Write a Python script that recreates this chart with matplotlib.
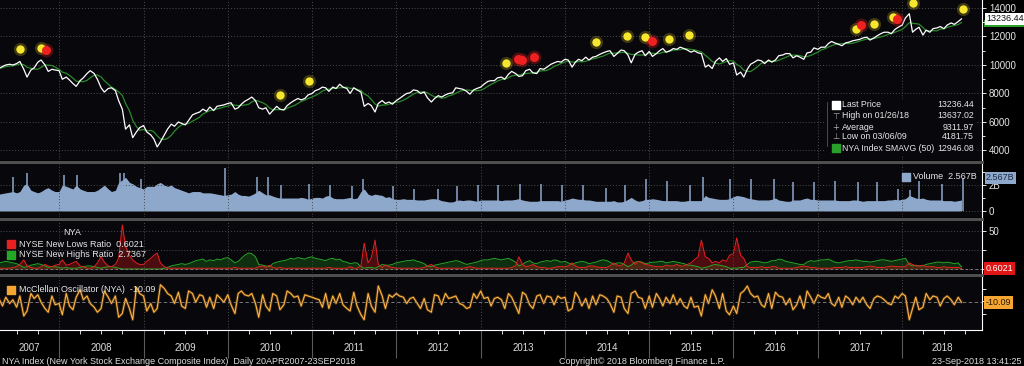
import numpy as np
import pandas as pd
import matplotlib
matplotlib.use('Agg')
import matplotlib.pyplot as plt
import matplotlib.transforms as mtrans
from matplotlib.lines import Line2D
from matplotlib.patches import Rectangle

plt.rcParams['font.family'] = ['Liberation Sans', 'DejaVu Sans']

# semi-monthly samples (1st and 15th), 15-Apr-2007 .. 15-Sep-2018
dates = pd.date_range('2007-04-15', '2018-09-15', freq='SMS')

price = [
    9750, 9900, 10000, 10050, 10000, 10100, 10250, 9700, 9150, 9650, 9800, 10200, 10350, 10000, 9550, 9700, 9650,  # 2007
    9600, 9000, 9150, 8950, 8700, 8500, 8900, 9100, 9400, 9600, 9400, 9000, 8400, 8100, 8350, 8400, 8200, 7500, 6900, 5500, 5800, 4900, 5300, 5600,
    5750, 5300, 5100, 4800, 4250, 4600, 5100, 5500, 5850, 5700, 6000, 5900, 5800, 6100, 6500, 6600, 6700, 6900, 6750, 7050, 6800, 7100, 7150, 7200,
    7300, 7350, 6900, 7000, 7250, 7450, 7600, 7750, 7500, 7000, 6900, 7000, 6550, 6800, 7100, 6900, 6850, 7150, 7350, 7500, 7650, 7550, 7650, 7900,
    8000, 8200, 8300, 8450, 8400, 8150, 8450, 8350, 8650, 8450, 8350, 8000, 8400, 8250, 8100, 7100, 7300, 7150, 6700, 7300, 7500, 7300, 7400, 7250,
    7500, 7650, 7850, 8000, 8050, 8250, 8200, 8000, 8100, 7700, 7400, 7650, 7850, 7750, 7900, 8000, 8050, 8400, 8350, 8300, 8150, 7950, 8250, 8350,
    8450, 8650, 8850, 8900, 8900, 9100, 9150, 9000, 9350, 9550, 9400, 9200, 9250, 9600, 9700, 9450, 9400, 9750, 9700, 9850, 10050, 10150, 10250, 10200,
    10400, 10350, 9850, 10200, 10400, 10300, 10550, 10350, 10550, 10600, 10750, 10850, 10950, 11000, 10600, 10800, 11050, 11000, 10700, 10150, 10750, 10900, 11000, 10650,
    10950, 10600, 10800, 11000, 11150, 10900, 11000, 11150, 11100, 11250, 11150, 11050, 10900, 11000, 10850, 10800, 9850, 10000, 9750, 10250, 10500, 10250, 10450, 10050,
    10150, 9300, 9500, 9150, 9700, 10050, 10200, 10350, 10300, 10100, 10350, 10200, 10350, 10650, 10700, 10800, 10800, 10500, 10650, 10550, 10400, 10850, 10900, 11200,
    11100, 11250, 11250, 11500, 11650, 11550, 11450, 11350, 11550, 11600, 11700, 11750, 11800, 11900, 11950, 11750, 11900, 12050, 12200, 12300, 12300, 12200, 12500, 12650,
    12800, 13300, 13600, 12300, 12500, 12650, 12100, 12450, 12300, 12550, 12600, 12700, 12550, 12800, 12950, 12850, 13050, 13236.44,  # 2018
]

volume = [  # billions
    1.3, 1.35, 1.4, 1.45, 1.5, 1.4, 1.5, 2.0, 2.1, 1.6, 1.5, 1.4, 1.5, 1.7, 1.8, 1.6, 1.5,
    1.5, 2.0, 1.9, 1.8, 1.7, 2.0, 1.7, 1.6, 1.5, 1.5, 1.5, 1.6, 1.8, 2.0, 1.7, 1.5, 1.6, 2.2, 2.4, 2.6, 2.2, 2.1, 1.9, 1.8,
    1.7, 1.9, 1.9, 1.9, 2.1, 2.2, 2.0, 1.9, 2.0, 1.8, 1.7, 1.6, 1.5, 1.4, 1.5, 1.5, 1.5, 1.4, 1.4, 1.4, 1.35, 1.3, 1.25, 1.2,
    1.25, 1.3, 1.5, 1.3, 1.2, 1.2, 1.15, 1.25, 1.4, 1.6, 1.4, 1.25, 1.25, 1.15, 1.05, 1.0, 1.0, 1.0, 1.0, 1.0, 1.0, 1.05, 1.0, 0.9,
    1.0, 1.05, 1.05, 1.0, 1.15, 1.2, 1.0, 0.95, 0.95, 0.95, 1.0, 1.05, 0.95, 1.0, 1.5, 1.7, 1.3, 1.2, 1.3, 1.25, 1.2, 1.05, 1.1, 0.95,
    0.9, 0.9, 0.95, 0.9, 0.9, 0.9, 0.85, 0.85, 0.85, 0.9, 0.95, 0.95, 0.9, 0.8, 0.75, 0.7, 0.7, 0.8, 0.85, 0.8, 0.85, 0.85, 0.8, 0.75,
    0.85, 0.85, 0.85, 0.85, 0.85, 0.85, 0.8, 0.85, 0.85, 0.85, 0.9, 0.95, 0.85, 0.8, 0.75, 0.75, 0.75, 0.8, 0.8, 0.8, 0.8, 0.8, 0.8, 0.75,
    0.85, 0.9, 1.0, 0.95, 0.9, 0.9, 0.85, 0.85, 0.8, 0.75, 0.75, 0.75, 0.75, 0.75, 0.8, 0.7, 0.7, 0.75, 0.9, 1.05, 0.85, 0.75, 0.8, 0.9,
    0.9, 0.95, 0.9, 0.85, 0.8, 0.8, 0.8, 0.8, 0.8, 0.75, 0.75, 0.8, 0.8, 0.8, 0.8, 0.8, 1.2, 1.05, 1.0, 0.95, 0.9, 0.9, 0.9, 0.95,
    1.1, 1.2, 1.15, 1.1, 1.0, 0.95, 0.9, 0.85, 0.85, 0.85, 0.85, 0.9, 1.0, 0.85, 0.8, 0.75, 0.75, 0.85, 0.85, 0.85, 0.95, 1.0, 0.9, 0.9,
    0.85, 0.85, 0.85, 0.85, 0.85, 0.85, 0.8, 0.8, 0.8, 0.8, 0.85, 0.85, 0.8, 0.75, 0.8, 0.8, 0.8, 0.8, 0.8, 0.8, 0.85, 0.85, 0.9, 0.85,
    0.9, 0.95, 1.2, 1.1, 1.0, 0.95, 1.0, 0.9, 0.85, 0.85, 0.85, 0.85, 0.8, 0.8, 0.8, 0.75, 0.8, 0.85,
]

spike_dates = ['2007-06-15', '2007-08-16', '2008-01-23', '2008-03-20', '2008-09-19', '2008-10-10', '2008-12-19',
               '2009-12-18', '2010-05-07', '2010-06-25', '2010-08-20', '2010-12-17', '2011-03-18', '2011-06-24',
               '2011-08-08', '2011-12-16', '2012-03-16', '2012-06-29', '2012-09-21', '2012-12-21', '2013-03-15',
               '2013-06-21', '2013-09-20', '2013-12-20', '2014-03-21', '2014-06-27', '2014-09-19', '2014-12-19',
               '2015-03-20', '2015-06-26', '2015-08-24', '2015-12-18', '2016-03-18', '2016-06-24', '2016-09-16',
               '2016-12-16', '2017-03-17', '2017-06-23', '2017-09-15', '2017-12-15', '2018-02-06', '2018-03-16',
               '2018-06-22', '2018-09-21']
spike_vals = [2.6, 2.9, 2.8, 2.8, 2.9, 2.9, 2.5, 3.3, 2.6, 2.6, 2.0, 2.1, 2.0, 1.9, 2.5, 1.9, 1.7, 1.7, 1.9, 2.0, 2.0,
              2.1, 2.1, 2.0, 2.0, 1.8, 2.0, 2.5, 2.3, 2.0, 2.6, 2.5, 2.5, 2.5, 2.2, 2.2, 2.3, 2.2, 2.2, 1.7, 1.6, 2.3,
              2.1, 2.567]

new_lows = [
    1, 1, 1, 1, 2, 3, 6, 12, 4, 2, 1, 1, 3, 6, 4, 3, 5,
    6, 12, 5, 6, 8, 10, 4, 3, 1, 1, 3, 8, 16, 9, 4, 3, 6, 14, 58, 30, 18, 12, 8, 6,
    6, 10, 14, 18, 21, 8, 3, 1, 1, 1, 1, 1, 1, 1, 1, 1, 1, 1, 1, 1, 1, 1, 1, 1,
    1, 1, 2, 1, 1, 1, 1, 1, 1, 3, 4, 2, 5, 2, 1, 2, 1, 1, 1, 1, 1, 1, 1, 1,
    1, 1, 1, 1, 1, 2, 1, 1, 1, 1, 1, 3, 1, 1, 4, 34, 8, 15, 38, 6, 2, 5, 3, 2,
    1, 1, 1, 1, 1, 1, 1, 1, 2, 4, 6, 3, 1, 1, 1, 1, 1, 1, 1, 1, 2, 3, 2, 1,
    1, 1, 1, 1, 1, 1, 1, 1, 1, 2, 4, 16, 6, 3, 4, 6, 3, 2, 2, 1, 1, 2, 3, 3,
    3, 4, 8, 4, 2, 2, 2, 4, 4, 3, 2, 2, 2, 4, 8, 5, 4, 8, 21, 12, 6, 10, 8, 6,
    5, 4, 3, 3, 3, 5, 4, 4, 6, 4, 4, 6, 8, 12, 16, 38, 16, 14, 8, 10, 8, 12, 10, 18,
    20, 41, 18, 14, 3, 2, 2, 2, 3, 2, 2, 3, 3, 1, 1, 1, 1, 1, 2, 3, 4, 3, 2, 2,
    1, 1, 1, 1, 1, 2, 2, 2, 3, 2, 2, 2, 2, 2, 3, 4, 3, 2, 2, 2, 3, 4, 3, 3,
    3, 3, 8, 6, 4, 4, 5, 3, 3, 3, 2, 2, 3, 2, 2, 2, 2, 0.6021,
]

new_highs = [
    8, 9, 10, 9, 8, 7, 5, 2, 3, 5, 6, 7, 6, 4, 2, 3, 3,
    2, 1, 2, 1, 1, 1, 2, 3, 4, 4, 3, 2, 1, 2, 3, 3, 2, 1, 0, 0, 0, 0, 0, 0,
    0, 0, 0, 0, 0, 0, 1, 2, 4, 5, 6, 7, 6, 7, 9, 11, 12, 13, 10, 12, 11, 13, 12, 14,
    15, 12, 8, 10, 14, 18, 21, 20, 16, 6, 5, 4, 3, 7, 9, 10, 11, 12, 14, 13, 15, 14, 13, 15,
    16, 14, 13, 12, 11, 13, 14, 12, 13, 10, 9, 7, 8, 8, 3, 1, 2, 2, 1, 3, 6, 5, 5, 6,
    8, 9, 10, 11, 11, 12, 10, 9, 7, 4, 3, 5, 6, 7, 8, 9, 10, 11, 10, 8, 6, 7, 8, 9,
    11, 12, 12, 13, 14, 13, 12, 13, 14, 12, 9, 4, 6, 9, 11, 8, 7, 9, 10, 11, 10, 12, 11, 9,
    10, 8, 6, 8, 9, 10, 9, 7, 8, 9, 11, 12, 11, 9, 6, 8, 8, 6, 3, 5, 9, 10, 9, 7,
    8, 9, 9, 10, 10, 8, 9, 10, 9, 8, 7, 5, 5, 4, 3, 1, 2, 3, 5, 6, 5, 4, 3, 1,
    1, 1, 2, 2, 6, 9, 10, 10, 9, 8, 9, 11, 11, 13, 12, 10, 9, 8, 7, 6, 6, 9, 11, 10,
    11, 12, 12, 13, 11, 9, 8, 9, 10, 11, 11, 12, 11, 10, 10, 9, 10, 11, 12, 12, 11, 10, 11, 12,
    13, 14, 6, 4, 5, 4, 4, 6, 7, 8, 9, 9, 8, 9, 8, 7, 8, 2.7367,
]

mcclellan = [
    20, -40, 30, -20, 10, -50, 40, -120, -80, 60, 20, 50, -10, -60, -90, 40, -30,
    -20, -110, 60, -40, -70, 30, 90, 10, 40, -20, -50, -90, -60, 80, 30, -20, 40, -130, -100, 20, -60, -150, 110, 60,
    40, -80, -20, -90, -60, 130, 100, 60, 40, -20, 70, -40, -60, 80, 60, -10, 50, 40, -50, 30, -60, 50, 20, -10,
    50, -30, -100, 60, 80, 50, 40, 60, -20, -130, 50, -40, -80, 60, 40, -70, -30, 80, 60, 30, 40, -40, 50, 40,
    30, 20, 10, -50, 60, -60, 40, -20, 60, -30, -60, -80, 70, -40, -110, -150, 60, -40, -90, 120, 40, -60, 50, 30,
    60, 40, 30, -20, 20, 30, -20, -60, 20, -70, -90, 50, 40, -30, 60, 20, 30, 40, -20, -30, -60, -50, 60, 20,
    80, 20, 30, -40, 20, 30, 10, -60, 60, 30, -40, -100, 70, 50, -30, -60, 40, 50, -20, 40, 30, -30, 40, 20,
    30, -80, -60, 70, 30, -40, 20, -60, 40, -30, 50, 40, 20, -20, -90, 40, 30, -60, -100, 60, 80, 30, 20, -60,
    40, -50, 60, 20, -40, 30, -20, 50, -30, 20, -40, -60, 30, -50, -40, -120, 50, -20, 90, 40, -60, 60, -80, -110,
    -40, -100, 60, 80, 120, 60, 30, 40, -30, -50, 60, -60, 70, 40, 30, -30, 20, -70, -30, 40, -60, 80, 30, -20,
    50, 30, 20, 60, -20, -40, 30, -50, 40, 20, -30, 30, -10, 30, -30, -60, 20, 40, 30, 10, -20, -30, 40, 20,
    60, 40, -150, -60, 30, -70, -50, 60, 10, 40, 30, -40, 20, 40, 10, -30, 30, -10.09,
]

yellow_dates = ['2007-07-16', '2007-10-13', '2010-08-15', '2010-12-19', '2013-04-20', '2014-05-16', '2014-09-28',
                '2014-12-15', '2015-03-29', '2015-06-24', '2017-06-16', '2017-09-02', '2017-11-23', '2018-02-18',
                '2018-09-21']
yellow_vals = [11120, 11190, 7900, 8880, 10140, 11610, 12030, 11960, 11820, 12100, 12530, 12880, 13370, 14350, 13930]
red_dates = ['2007-11-06', '2013-06-11', '2013-06-29', '2013-08-20', '2015-01-14', '2017-07-07', '2017-12-11']
red_vals = [11050, 10420, 10350, 10560, 11680, 12810, 13230]

sma = pd.Series(price).rolling(5, min_periods=1).mean()

W, H = 1024, 366
RIGHT = 982
fig = plt.figure(figsize=(W / 100, H / 100), dpi=100, facecolor='black')

def panel(top, bottom):
    ax = fig.add_axes([0, 1 - bottom / H, RIGHT / W, (bottom - top) / H])
    ax.set_facecolor('#08080c')
    for s in ['top', 'left', 'bottom']:
        ax.spines[s].set_visible(False)
    ax.spines['right'].set_color('white')
    ax.spines['right'].set_linewidth(0.8)
    ax.yaxis.tick_right()
    ax.tick_params(axis='y', colors='#e6e6e6', labelsize=7, length=3, width=0.7, pad=2, which='both')
    ax.tick_params(axis='y', which='minor', length=2)
    return ax

ax_p = panel(0, 160)
ax_v = panel(164, 217)
ax_h = panel(220, 273)
ax_m = panel(277, 330)

x0, x1 = pd.Timestamp('2007-04-20'), pd.Timestamp('2018-12-13')
years = pd.date_range('2008-01-01', '2018-01-01', freq='YS')
quarters = pd.date_range('2007-07-01', '2018-12-01', freq='QS')
grid_kw = dict(color='#4d4d4d', ls=(0, (1, 2)), lw=0.7)
for ax in [ax_p, ax_v, ax_h, ax_m]:
    ax.set_xlim(x0, x1)
    ax.set_xticks(years)
    ax.grid(axis='x', **grid_kw)
    ax.tick_params(axis='x', length=0, labelbottom=False)

# price panel
ax_p.plot(dates, sma, color='#2a8a2a', lw=0.9)
ax_p.plot(dates, price, color='white', lw=0.9)
yd = pd.to_datetime(yellow_dates)
rd = pd.to_datetime(red_dates)
ax_p.scatter(yd, yellow_vals, s=90, color='#f5e22a', alpha=0.22, lw=0, zorder=4)
ax_p.scatter(yd, yellow_vals, s=36, color='#f7e62e', lw=0, zorder=5)
ax_p.scatter(rd, red_vals, s=100, color='#e01d1d', alpha=0.3, lw=0, zorder=4)
ax_p.scatter(rd, red_vals, s=42, color='#ee2020', lw=0, zorder=5)
ax_p.set_ylim(3333, 14561)
ax_p.set_yticks(range(4000, 14001, 2000))
ax_p.set_yticks(range(4000, 14001, 1000), minor=True)
ax_p.grid(axis='y', **grid_kw)

leg = ax_p.transAxes
ax_p.add_patch(Rectangle((0.840, 0.03), 0.155, 0.35, transform=leg, facecolor='#08080c', edgecolor='none', zorder=6))
ax_p.add_line(Line2D([0.842, 0.842], [0.09, 0.36], transform=leg, color='#555555', lw=0.6, zorder=7))
rows_y = [0.344, 0.275, 0.206, 0.144, 0.075]
leg_labels = ['Last Price', 'High on 01/26/18', 'Average', 'Low on 03/06/09', 'NYA Index SMAVG (50)']
leg_values = ['13236.44', '13637.02', '9311.97', '4181.75', '12946.08']
leg_marks = [None, '\u22a4', '+', '\u22a5', None]
for y, lab, val, mk in zip(rows_y, leg_labels, leg_values, leg_marks):
    ax_p.text(0.857, y, lab, transform=leg, color='#e6e6e6', fontsize=6.3, va='center', zorder=8)
    ax_p.text(0.992, y, val, transform=leg, color='#e6e6e6', fontsize=6.3, va='center', ha='right', zorder=8)
    if mk:
        ax_p.text(0.851, y, mk, transform=leg, color='#aaaaaa', fontsize=6, va='center', ha='center',
                  family=['DejaVu Sans'], zorder=8)
ax_p.scatter([0.851], [rows_y[0]], transform=leg, marker='s', s=30, color='white', zorder=8)
ax_p.scatter([0.851], [rows_y[4]], transform=leg, marker='s', s=30, color='#2aa02a', zorder=8)

# last-value boxes on the right axis
ytr = mtrans.blended_transform_factory(ax_p.transAxes, ax_p.transData)
ax_p.add_patch(Rectangle((1.002, 12700), 0.046, 450, transform=ytr, facecolor='#2aa02a', edgecolor='none',
                         clip_on=False))
ax_p.text(1.004, 13236.44, '13236.44', transform=ytr, fontsize=6.5, color='#111111', va='center',
          bbox=dict(boxstyle='square,pad=0.15', fc='white', ec='none'))

# volume panel
ax_v.fill_between(dates, volume, 0, color='#8ea8cc', lw=0)
ax_v.vlines(pd.to_datetime(spike_dates), 0, spike_vals, color='#8ea8cc', lw=1.1)
ax_v.set_ylim(-0.46, 3.62)
ax_v.set_yticks([0, 2])
ax_v.set_yticklabels(['0', '2B'])
ax_v.set_yticks([1, 3], minor=True)
ax_v.grid(axis='y', **grid_kw)
vl = ax_v.transAxes
ax_v.scatter([0.9226], [0.755], transform=vl, marker='s', s=30, color='#8ea8cc', zorder=8)
ax_v.text(0.930, 0.755, 'Volume  2.567B', transform=vl, color='#e6e6e6', fontsize=6.5, va='center', zorder=8)
ytr = mtrans.blended_transform_factory(ax_v.transAxes, ax_v.transData)
ax_v.text(1.004, 2.567, '2.567B', transform=ytr, fontsize=6.5, color='#1b2a44', va='center',
          bbox=dict(boxstyle='square,pad=0.15', fc='#8ea8cc', ec='none'))

# new highs / new lows panel
ax_h.fill_between(dates, new_highs, 0, color='#1c8c1c', alpha=0.3, lw=0)
ax_h.plot(dates, new_highs, color='#26a626', lw=0.7)
ax_h.fill_between(dates, new_lows, 0, color='#d01818', alpha=0.35, lw=0)
ax_h.plot(dates, new_lows, color='#e82020', lw=0.7)
ax_h.axhline(new_lows[-1], color='#8a8a8a', ls=(0, (3, 3)), lw=0.6)
ax_h.set_ylim(-5.3, 64.5)
ax_h.set_yticks([0, 25, 50])
ax_h.set_yticklabels(['', '', '50'])
ax_h.grid(axis='y', **grid_kw)
hl = ax_h.transAxes
ax_h.text(0.074, 0.755, 'NYA', transform=hl, color='#e6e6e6', fontsize=6.5, va='center', ha='center')
ax_h.scatter([0.0112], [0.547], transform=hl, marker='s', s=30, color='#e82020')
ax_h.text(0.0193, 0.547, 'NYSE New Lows Ratio  0.6021', transform=hl, color='#e6e6e6', fontsize=6.5, va='center')
ax_h.scatter([0.0112], [0.34], transform=hl, marker='s', s=30, color='#26a626')
ax_h.text(0.0193, 0.34, 'NYSE New Highs Ratio  2.7367', transform=hl, color='#e6e6e6', fontsize=6.5, va='center')
ytr = mtrans.blended_transform_factory(ax_h.transAxes, ax_h.transData)
ax_h.text(1.004, 0.6021, '0.6021', transform=ytr, fontsize=6.5, color='white', va='center',
          bbox=dict(boxstyle='square,pad=0.2', fc='#e01515', ec='none'))

# mcclellan panel
ax_m.plot(dates, mcclellan, color='#c47a12', lw=2.0, alpha=0.35)
ax_m.plot(dates, mcclellan, color='#ffb547', lw=0.8)
ax_m.axhline(mcclellan[-1], color='#8a8a8a', ls=(0, (4, 3)), lw=0.6)
ax_m.set_ylim(-232, 192)
ax_m.set_yticks([-100, 0, 100])
ax_m.set_yticklabels(['', '', ''])
ml = ax_m.transAxes
ax_m.scatter([0.0112], [0.755], transform=ml, marker='s', s=30, color='#f5a632')
ax_m.text(0.0193, 0.755, 'McClellan Oscillator (NYA)  -10.09', transform=ml, color='#e6e6e6', fontsize=6.5,
          va='center')
ytr = mtrans.blended_transform_factory(ax_m.transAxes, ax_m.transData)
ax_m.text(1.004, -10.09, '-10.09', transform=ytr, fontsize=6.5, color='#2a1a00', va='center',
          bbox=dict(boxstyle='square,pad=0.2', fc='#f5a632', ec='none'))

ax_m.spines['bottom'].set_visible(True)
ax_m.spines['bottom'].set_color('white')
ax_m.spines['bottom'].set_linewidth(0.8)
ax_m.tick_params(axis='x', which='major', length=20, color='#5a5a5a', width=0.8, direction='out')
ax_m.set_xticks(quarters, minor=True)
ax_m.tick_params(axis='x', which='minor', length=3, color='white', width=0.6, direction='out')

xtr = mtrans.blended_transform_factory(ax_m.transData, ax_m.transAxes)
for yr in range(2007, 2019):
    a = max(pd.Timestamp(f'{yr}-01-01'), x0)
    b = min(pd.Timestamp(f'{yr + 1}-01-01'), x1)
    ax_m.text(a + (b - a) / 2, -0.34, str(yr), transform=xtr, color='#dcdcdc', fontsize=7,
              ha='center', va='center')

# panel separators
for y in [162, 218.5, 275]:
    fig.add_artist(Line2D([0, RIGHT / W], [1 - y / H, 1 - y / H], color='#4e4e4e', lw=2.2))

fy = 1 - 361 / H
fig.text(2 / W, fy, 'NYA Index (New York Stock Exchange Composite Index)  Daily 20APR2007-23SEP2018',
         color='#dcdcdc', fontsize=6.5, va='center')
fig.text(559 / W, fy, 'Copyright\u00a9 2018 Bloomberg Finance L.P.', color='#dcdcdc', fontsize=6.5, va='center')
fig.text(1021 / W, fy, '23-Sep-2018 13:41:25', color='#dcdcdc', fontsize=6.5, va='center', ha='right')

fig.savefig('out.png', dpi=100, facecolor='black')
